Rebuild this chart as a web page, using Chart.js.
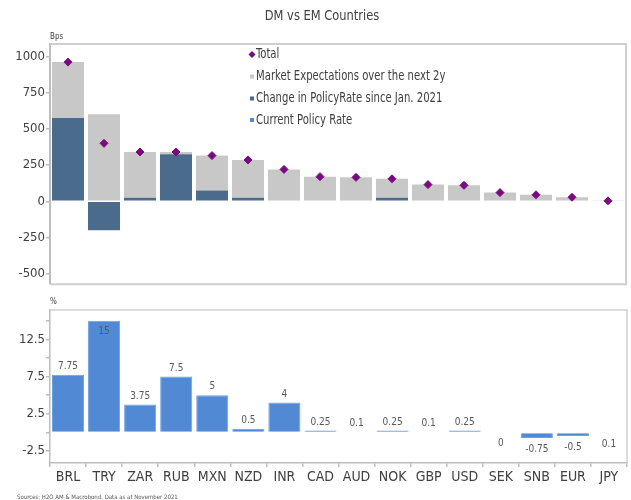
<!DOCTYPE html>
<html><head><meta charset="utf-8">
<script src="https://cdn.jsdelivr.net/npm/chart.js@4.4.0/dist/chart.umd.min.js"></script>
<style>
html,body{margin:0;padding:0;background:#fff;width:631px;height:500px;overflow:hidden}
#top{position:absolute;left:0;top:0;width:631px;height:293px}
#bot{position:absolute;left:0;top:293px;width:631px;height:207px}
</style></head><body>
<div id="top"><canvas id="c1"></canvas></div>
<div id="bot"><canvas id="c2"></canvas></div>
<script>
const categories = ['BRL','TRY','ZAR','RUB','MXN','NZD','INR','CAD','AUD','NOK','GBP','USD','SEK','SNB','EUR','JPY'];
const changeSinceJan2021 = [575,-200,25,325,75,25,0,0,0,25,0,0,0,0,0,0];
const marketExpectations = [385,600,315,15,240,260,220,170,165,130,115,110,60,45,28,3];
const totalBps = [960,400,340,340,315,285,220,170,165,155,115,110,60,45,28,3];
const currentPolicyRate = [7.75,15,3.75,7.5,5,0.5,4,0.25,0.1,0.25,0.1,0.25,0,-0.75,-0.5,-0.1];
const rateLabels = ['7.75','15','3.75','7.5','5','0.5','4','0.25','0.1','0.25','0.1','0.25','0','-0.75','-0.5','0.1'];
const topTicks = [1000,750,500,250,0,-250,-500];
const legendLabels = ['Total','Market Expectations over the next 2y','Change in PolicyRate since Jan. 2021','Current Policy Rate'];

const FONT = '"DejaVu Sans Condensed","Liberation Sans",sans-serif';
const TXT = '#404040';
const C_GREY = '#c8c8c8', C_DARK = '#4a6b8b', C_BLUE = '#5189d4', C_PURPLE = '#7b0a80';
const FRAME = '#cfcfcf', AXIS = '#bdbdbd';
Chart.defaults.font.family = FONT;
Chart.defaults.color = TXT;
Chart.defaults.animation = false;

function squeezeText(ctx, text, x, y, sx) {
  ctx.save();
  ctx.translate(x, y);
  ctx.scale(sx, 1);
  ctx.fillText(text, 0, 0);
  ctx.restore();
}

const topDecor = {
  id: 'topDecor',
  afterDraw(chart) {
    const ctx = chart.ctx, a = chart.chartArea;
    ctx.save();
    ctx.strokeStyle = FRAME; ctx.lineWidth = 2;
    ctx.beginPath();
    ctx.moveTo(a.left, a.top); ctx.lineTo(a.right, a.top); ctx.lineTo(a.right, a.bottom); ctx.lineTo(a.left, a.bottom);
    ctx.stroke();
    ctx.fillStyle = TXT; ctx.textBaseline = 'middle'; ctx.textAlign = 'center';
    ctx.font = '14px ' + FONT;
    squeezeText(ctx, 'DM vs EM Countries', 322, 16, 0.91);
    ctx.textAlign = 'left';
    ctx.font = '8px ' + FONT;
    ctx.fillText('Bps', a.left, 37);
    const x0 = 252, ys = [54.5, 76.5, 98.5, 120];
    ctx.font = '13.5px ' + FONT;
    legendLabels.forEach((t, i) => {
      const y = ys[i];
      if (i === 0) {
        ctx.fillStyle = C_PURPLE;
        ctx.beginPath(); ctx.moveTo(x0, y - 3.5); ctx.lineTo(x0 + 3.5, y); ctx.lineTo(x0, y + 3.5); ctx.lineTo(x0 - 3.5, y); ctx.closePath(); ctx.fill();
      } else {
        ctx.fillStyle = [null, C_GREY, C_DARK, C_BLUE][i];
        ctx.fillRect(x0 - 2, y - 2, 4, 4);
      }
      ctx.fillStyle = TXT;
      squeezeText(ctx, t, x0 + 4, y, 0.83);
    });
    ctx.restore();
  }
};

new Chart(document.getElementById('c1'), {
  type: 'bar',
  data: {
    labels: categories,
    datasets: [
      { type: 'line', label: legendLabels[0], data: totalBps, showLine: false, pointStyle: 'rectRot', pointRadius: 4, backgroundColor: C_PURPLE, borderColor: C_PURPLE, stack: 'tot', order: 0 },
      { label: legendLabels[2], data: changeSinceJan2021, backgroundColor: C_DARK, stack: 'bps', order: 1, barPercentage: 0.89, categoryPercentage: 1 },
      { label: legendLabels[1], data: marketExpectations, backgroundColor: C_GREY, stack: 'bps', order: 2, barPercentage: 0.89, categoryPercentage: 1 }
    ]
  },
  options: {
    responsive: true, maintainAspectRatio: false,
    layout: { padding: { top: 44, right: 4, bottom: 2, left: 0 } },
    plugins: { legend: { display: false }, tooltip: { enabled: false }, title: { display: false } },
    scales: {
      x: { display: false, stacked: true },
      y: {
        stacked: true, min: -572, max: 1085,
        afterFit(s) { s.width = 50; },
        afterBuildTicks(s) { s.ticks = topTicks.map(v => ({ value: v })); },
        grid: { drawOnChartArea: false, tickLength: 4, color: AXIS, lineWidth: 1.5 },
        border: { color: AXIS, width: 2 },
        ticks: { font: { size: 13 }, color: TXT, padding: 1, callback: v => String(v) }
      }
    }
  },
  plugins: [topDecor]
});

const botDecor = {
  id: 'botDecor',
  afterDraw(chart) {
    const ctx = chart.ctx, a = chart.chartArea;
    ctx.save();
    ctx.strokeStyle = FRAME; ctx.lineWidth = 1.5;
    ctx.beginPath();
    ctx.moveTo(a.left, a.top); ctx.lineTo(a.right, a.top); ctx.lineTo(a.right, a.bottom);
    ctx.stroke();
    ctx.fillStyle = TXT; ctx.textBaseline = 'middle'; ctx.textAlign = 'left';
    ctx.font = '8px ' + FONT;
    ctx.fillText('%', a.left, 9);
    ctx.font = '6px ' + FONT;
    ctx.fillStyle = '#555';
    ctx.fillText('Sources: H2O AM & Macrobond. Data as at November 2021', 17, 204.5);
    ctx.font = '10px ' + FONT;
    ctx.fillStyle = '#595959';
    ctx.textAlign = 'center';
    const meta = chart.getDatasetMeta(0);
    meta.data.forEach((bar, i) => {
      const v = currentPolicyRate[i];
      const top = Math.min(bar.y, bar.base), bottom = Math.max(bar.y, bar.base);
      let y;
      if (v > 0) {
        y = top - 8.5;
        if (y - 6 < a.top) y = top + 11;
      } else {
        y = bottom + 11;
      }
      ctx.fillText(rateLabels[i], bar.x, y);
    });
    ctx.restore();
  }
};

new Chart(document.getElementById('c2'), {
  type: 'bar',
  data: {
    labels: categories,
    datasets: [
      { label: legendLabels[3], data: currentPolicyRate, backgroundColor: C_BLUE, borderColor: '#6f9ee0', borderWidth: 1, barPercentage: 0.89, categoryPercentage: 1 }
    ]
  },
  options: {
    responsive: true, maintainAspectRatio: false,
    layout: { padding: { top: 17, right: 4, bottom: 0, left: 0 } },
    plugins: { legend: { display: false }, tooltip: { enabled: false }, title: { display: false } },
    scales: {
      x: {
        afterFit(s) { s.height = 37; },
        grid: { offset: true, drawOnChartArea: false, tickLength: 4, color: AXIS, lineWidth: 1.5 },
        border: { color: AXIS, width: 1.5 },
        ticks: { font: { size: 14 }, color: TXT, padding: 2, maxRotation: 0, autoSkip: false }
      },
      y: {
        min: -4.11, max: 16.43,
        afterFit(s) { s.width = 50; },
        afterBuildTicks(s) {
          const t = [];
          for (let v = -2.5; v <= 15.001; v += 2.5) t.push({ value: Math.round(v * 10) / 10 });
          s.ticks = t;
        },
        grid: { drawOnChartArea: false, tickLength: 4, color: AXIS, lineWidth: 1.5 },
        border: { color: AXIS, width: 1.5 },
        ticks: {
          font: { size: 13 }, color: TXT, padding: 1,
          callback(v) { const k = Math.round(v / 2.5); return (Math.abs(k) % 2 === 1) ? String(v) : ''; }
        }
      }
    }
  },
  plugins: [botDecor]
});
</script>
</body></html>
